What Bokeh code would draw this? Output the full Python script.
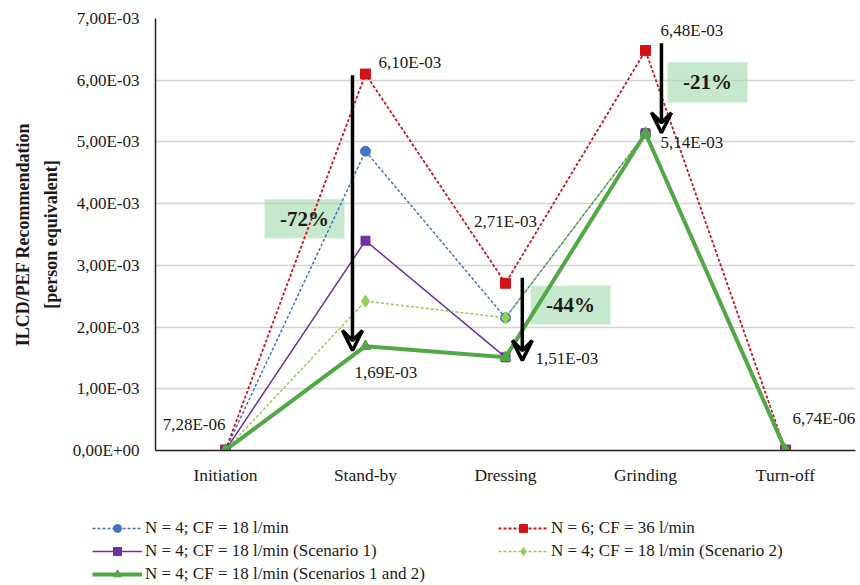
from bokeh.plotting import figure
from bokeh.layouts import column, row
from bokeh.models import (Range1d, FixedTicker, Legend, LegendItem, Label,
                          BoxAnnotation, Arrow, VeeHead)
from bokeh.embed import file_html
from bokeh.resources import INLINE

categories = ["Initiation", "Stand-by", "Dressing", "Grinding", "Turn-off"]
s_base = [7.28e-6, 4.85e-3, 2.15e-3, 5.14e-3, 6.74e-6]
s_n6 = [7.28e-6, 6.10e-3, 2.71e-3, 6.48e-3, 6.74e-6]
s_sc1 = [7.28e-6, 3.40e-3, 1.51e-3, 5.14e-3, 6.74e-6]
s_sc2 = [7.28e-6, 2.42e-3, 2.15e-3, 5.14e-3, 6.74e-6]
s_sc12 = [7.28e-6, 1.69e-3, 1.51e-3, 5.14e-3, 6.74e-6]
y_ticks = [0.0, 1e-3, 2e-3, 3e-3, 4e-3, 5e-3, 6e-3, 7e-3]
y_tick_labels = ["0,00E+00", "1,00E-03", "2,00E-03", "3,00E-03",
                 "4,00E-03", "5,00E-03", "6,00E-03", "7,00E-03"]
legend_names = ["N = 4; CF = 18 l/min", "N = 6; CF = 36 l/min",
                "N = 4; CF = 18 l/min (Scenario 1)", "N = 4; CF = 18 l/min (Scenario 2)",
                "N = 4; CF = 18 l/min (Scenarios 1 and 2)"]
reductions = ["-72%", "-44%", "-21%"]

FONT = "Liberation Serif"
TXT = "#1a1a1a"
xs = [i + 0.5 for i in range(len(categories))]

styles = [
    dict(color="#4472C4", width=1.5, dash="3 2", marker="circle", size=10),
    dict(color="#D0141A", width=1.8, dash="3 2", marker="square", size=10),
    dict(color="#7030A0", width=1.5, dash="solid", marker="square", size=9),
    dict(color="#92D050", width=1.5, dash="3 2", marker="diamond", size=12),
    dict(color="#52A747", width=4, dash="solid", marker="triangle", size=11),
]
series = [s_base, s_n6, s_sc1, s_sc2, s_sc12]

p = figure(width=860, height=493, output_backend="svg", toolbar_location=None,
           x_range=Range1d(0, 5), y_range=Range1d(0, 0.007),
           min_border_left=155, min_border_right=5, min_border_top=18, min_border_bottom=43)
p.outline_line_color = None
p.background_fill_color = "white"
p.border_fill_color = "white"

# axes
p.xaxis.ticker = FixedTicker(ticks=xs)
p.xaxis.major_label_overrides = {x: c for x, c in zip(xs, categories)}
p.yaxis.ticker = FixedTicker(ticks=y_ticks)
p.yaxis.major_label_overrides = {t: l for t, l in zip(y_ticks, y_tick_labels)}
for ax in (p.xaxis, p.yaxis):
    ax.major_tick_line_color = None
    ax.minor_tick_line_color = None
    ax.axis_line_color = "#222222"
    ax.axis_line_width = 1.5
    ax.major_label_text_font = FONT
    ax.major_label_text_color = TXT
p.yaxis.major_label_text_font_size = "17px"
p.xaxis.major_label_text_font_size = "17.5px"
p.xaxis.major_label_standoff = 8
p.yaxis.major_label_standoff = 10
p.yaxis.axis_label = "ILCD/PEF Recommendation\n[person equivalent]"
p.yaxis.axis_label_text_font = FONT
p.yaxis.axis_label_text_font_size = "18px"
p.yaxis.axis_label_text_font_style = "bold"
p.yaxis.axis_label_text_color = TXT
p.yaxis.axis_label_standoff = 9
p.yaxis.axis_label_text_line_height = 1.4
p.xgrid.grid_line_color = None
p.ygrid.grid_line_color = "#d4d4d4"
p.ygrid.grid_line_width = 1.5

# green boxes (behind lines)
boxes = [(0.779, 1.35, 4.07e-3, 3.44e-3), (2.68, 3.25, 2.67e-3, 2.04e-3), (3.657, 4.229, 6.29e-3, 5.64e-3)]
for (l, r, t, b), txt in zip(boxes, reductions):
    p.add_layout(BoxAnnotation(left=l, right=r, top=t, bottom=b, fill_color="#a8dcb2",
                               fill_alpha=0.65, line_color=None, level="underlay"))
    p.add_layout(Label(x=(l + r) / 2, y=(t + b) / 2, text=txt, text_font=FONT,
                       text_font_size="21px", text_font_style="bold", text_color=TXT,
                       text_align="center", text_baseline="middle"))

# series
for vals, st in zip(series, styles):
    p.line(xs, vals, line_color=st["color"], line_width=st["width"], line_dash=st["dash"])
    p.scatter(xs, vals, marker=st["marker"], size=st["size"], fill_color=st["color"],
              line_color=st["color"])

# arrows
arrows = [(1.407, 6.08e-3, 1.62e-3), (2.62, 2.80e-3, 1.46e-3), (3.614, 6.6e-3, 5.15e-3)]
for ax_, y0, y1 in arrows:
    p.add_layout(Arrow(x_start=ax_, y_start=y0, x_end=ax_, y_end=y1, line_width=3.5,
                       line_color="black",
                       end=VeeHead(size=20, line_color="black", line_width=3.5,
                                   fill_color=None, fill_alpha=0)))

# value labels
val_labels = [
    (1, s_n6[1], "6,10E-03", 13, 12, "left"),
    (2, s_n6[2], "2,71E-03", 0, 62, "center"),
    (3, s_n6[3], "6,48E-03", 15, 20, "left"),
    (3, s_sc12[3], "5,14E-03", 15, -9, "left"),
    (1, s_sc12[1], "1,69E-03", -11, -26, "left"),
    (2, s_sc12[2], "1,51E-03", 30, -1, "left"),
    (0, s_sc12[0], "7,28E-06", 0, 26, "right"),
    (4, s_sc12[4], "6,74E-06", 7, 32, "left"),
]
for i, v, txt, dx, dy, al in val_labels:
    p.add_layout(Label(x=xs[i], y=v, text=txt, x_offset=dx, y_offset=dy, text_font=FONT,
                       text_font_size="17px", text_color=TXT, text_align=al,
                       text_baseline="middle"))

# legend figure below the chart
lf = figure(width=860, height=92, output_backend="svg", toolbar_location=None,
            x_range=Range1d(0, 1), y_range=Range1d(0, 1),
            min_border_left=0, min_border_right=0, min_border_top=0, min_border_bottom=0)
lf.axis.visible = False
lf.grid.visible = False
lf.outline_line_color = None
proxies = []
for st in styles:
    # legend swatches only: one point outside the visible range
    rl = lf.line([-10, -9], [-10, -9], line_color=st["color"], line_width=st["width"],
                 line_dash=st["dash"])
    rm = lf.scatter([-10], [-10], marker=st["marker"], size=st["size"], fill_color=st["color"],
                    line_color=st["color"])
    proxies.append([rl, rm])

def mk_legend(idx, loc):
    return Legend(items=[LegendItem(label=legend_names[i], renderers=proxies[i]) for i in idx],
                  location=loc, padding=0, margin=0, spacing=3,
                  glyph_width=50, glyph_height=20, label_height=20, label_standoff=3,
                  label_text_font=FONT, label_text_font_size="17px", label_text_color=TXT,
                  border_line_alpha=0, background_fill_alpha=0)

lf.add_layout(mk_legend([0, 2, 4], (92, 1)), "center")
lf.add_layout(mk_legend([1, 3], (498, 24)), "center")

open("out.html", "w").write(file_html(column(p, row(lf), spacing=0), INLINE))
